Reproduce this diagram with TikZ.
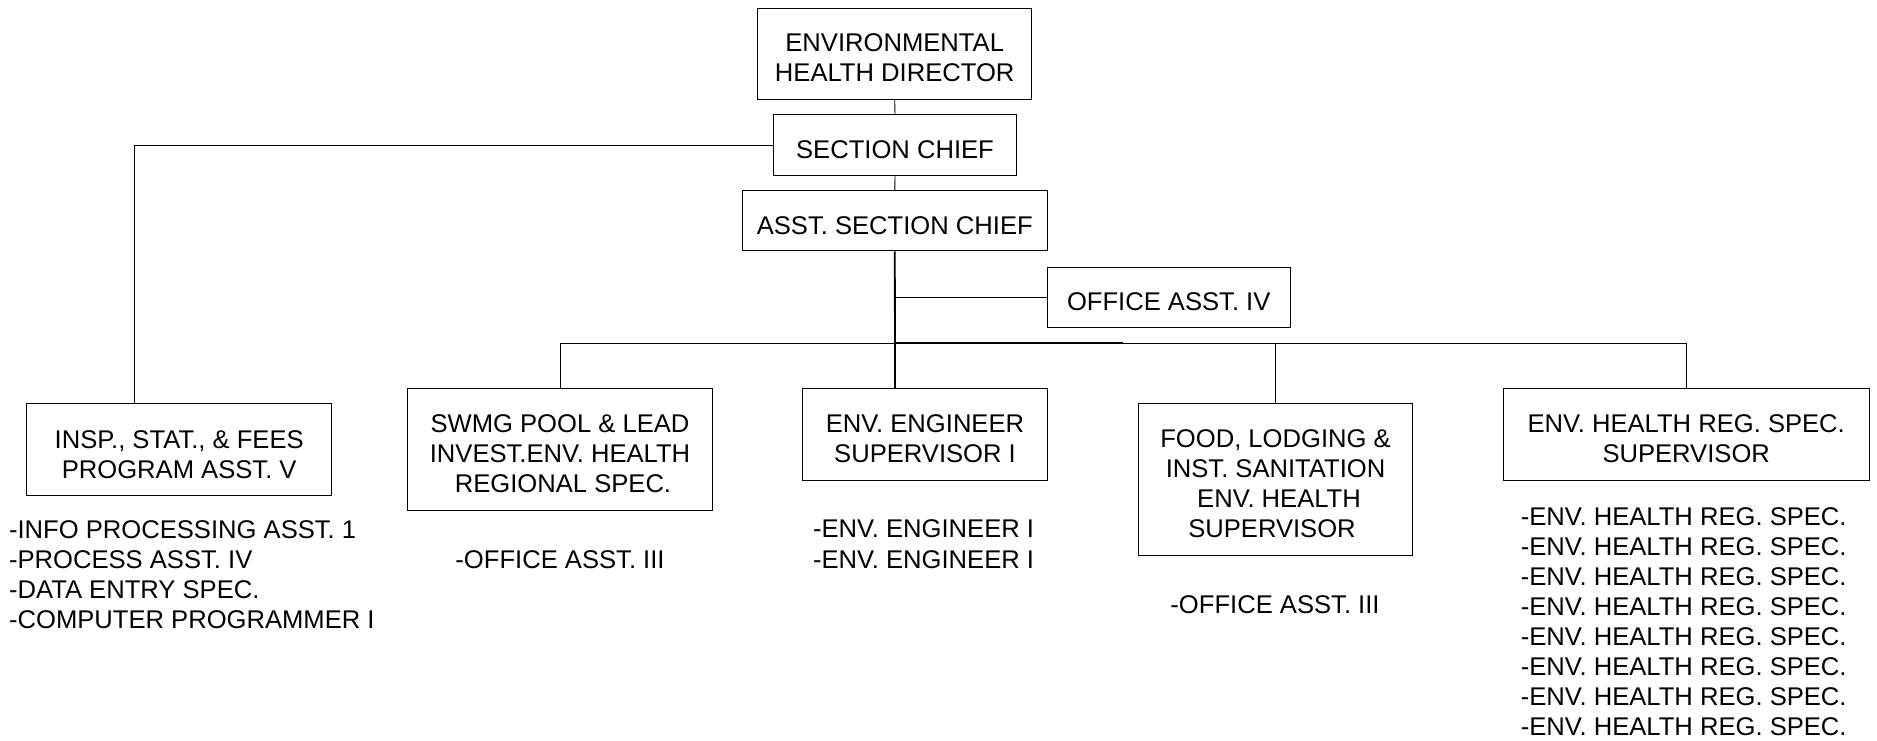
\documentclass[tikz,border=0pt]{standalone}
\usepackage{fontspec}
\setmainfont{Liberation Sans}
\newcommand{\tstrut}{\rule{0pt}{26.8pt}}
\begin{document}
\begin{tikzpicture}[x=1pt,y=-1pt,
  box/.style={draw, line width=1pt, rectangle, inner sep=0pt, align=center,
    font=\fontsize{25.6pt}{30pt}\selectfont},
  lst/.style={inner sep=0pt, anchor=base west, font=\fontsize{25.6pt}{30pt}\selectfont},
  lstc/.style={inner sep=0pt, anchor=base, font=\fontsize{25.6pt}{30pt}\selectfont},
  conn/.style={line width=0.9pt},
  trunk/.style={line width=1.8pt}]
\useasboundingbox (0,0) rectangle (1877,741);

% boxes
\node[box, minimum width=274pt, minimum height=90.7pt] (dir) at (894.7,53.7) {\tstrut ENVIRONMENTAL\\HEALTH DIRECTOR};
\node[box, minimum width=243.4pt, minimum height=60pt] (sc) at (895,145) {\tstrut SECTION CHIEF};
\node[box, minimum width=305pt, minimum height=60.3pt] (asc) at (894.8,220.8) {\tstrut ASST. SECTION CHIEF};
\node[box, minimum width=242.7pt, minimum height=60pt] (oa) at (1168.7,297) {\tstrut OFFICE ASST. IV};
\node[box, minimum width=305pt, minimum height=91.7pt] (insp) at (179.2,449.8) {\tstrut INSP., STAT., \& FEES\\PROGRAM ASST. V};
\node[box, minimum width=305.4pt, minimum height=122.4pt] (swmg) at (560,449.5) {\tstrut SWMG POOL \& LEAD\\INVEST.ENV. HEALTH\\\hspace*{6pt}REGIONAL SPEC.};
\node[box, minimum width=244.6pt, minimum height=91.7pt] (eng) at (925,434.2) {\tstrut ENV. ENGINEER\\SUPERVISOR I};
\node[box, minimum width=274.4pt, minimum height=152.4pt] (food) at (1275.5,479.5) {\tstrut FOOD, LODGING \&\\INST. SANITATION\\\hspace*{7pt}ENV. HEALTH\\SUPERVISOR\hspace*{7pt}};
\node[box, minimum width=365.7pt, minimum height=91.7pt] (reg) at (1686.2,434.2) {\tstrut ENV. HEALTH REG. SPEC.\\SUPERVISOR};

% coordinates for connectors
\coordinate (inspT) at (134,403.95);
\coordinate (engT) at (895,388.35);
\coordinate (busL) at (560,343);
\coordinate (busM) at (895,343);
\coordinate (busT) at (1123,343);
\coordinate (busR) at (1686.7,343);
\coordinate (oaJ) at (895,297);

% connectors
\draw[conn] (dir.south) -- (sc.north);
\draw[conn] (sc.south) -- (asc.north);
\draw[conn] (sc.west) -| (inspT);
\draw[trunk] (asc.south) -- (engT);
\draw[conn] (oaJ) -- (oa.west);
\draw[conn] (busL) -- (busR);
\draw[trunk] (busM) -- (busT);
\draw[conn] (busL) -- (swmg.north);
\draw[conn] (food.north |- busL) -- (food.north);
\draw[conn] (busR) -- (busR |- reg.north);

% lists
\node[lst] (l1) at (8.9,538.3) {-INFO PROCESSING ASST. 1};
\node[lst] (l2) at (8.9,568.3) {-PROCESS ASST. IV};
\node[lst] (l3) at (8.9,598.3) {-DATA ENTRY SPEC.};
\node[lst] (l4) at (8.9,628.3) {-COMPUTER PROGRAMMER I};
\node[lstc] (s1) at (560,568) {-OFFICE ASST. III};
\node[lst] (e1) at (812.9,537.5) {-ENV. ENGINEER I};
\node[lst] (e2) at (812.9,568) {-ENV. ENGINEER I};
\node[lstc] (f1) at (1275,613.3) {-OFFICE ASST. III};
\foreach \i in {0,...,7}
  \node[lst] (r\i) at (1520.6,525+30*\i) {-ENV. HEALTH REG. SPEC.};
\end{tikzpicture}
\end{document}
